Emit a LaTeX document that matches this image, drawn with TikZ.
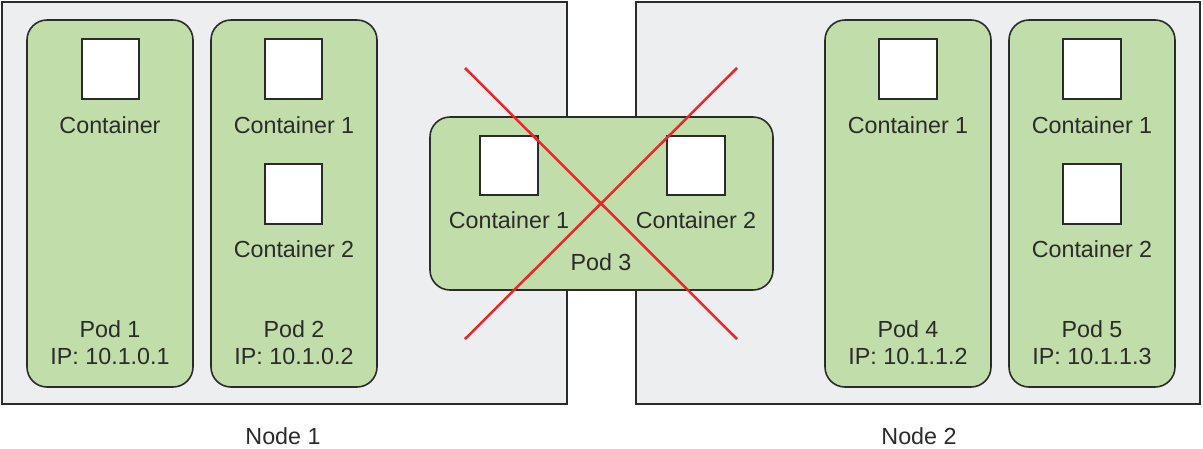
\documentclass[tikz,border=0pt]{standalone}
\usepackage{fontspec}
\setmainfont{Liberation Sans}
\definecolor{nodegray}{HTML}{EDEEF0}
\definecolor{podgreen}{HTML}{C1DDA9}
\definecolor{edge}{HTML}{2B2B2B}
\definecolor{crossred}{HTML}{E8262B}
\begin{document}
\begin{tikzpicture}[x=1pt,y=-1pt,
  hostbox/.style={draw=edge,line width=1.8pt,fill=nodegray},
  podbox/.style={draw=edge,line width=1.6pt,fill=podgreen,rounded corners=20pt},
  ctr/.style={draw=edge,line width=1.6pt,fill=white},
  lbl/.style={font=\fontsize{23.3}{28}\selectfont,text=edge,inner sep=0pt},
  cross/.style={draw=crossred,line width=2.5pt}]
\useasboundingbox (0,0) rectangle (1203,448);
% hosts
\draw[hostbox] (2,2) rectangle (567,404);
\draw[hostbox] (636,2) rectangle (1200,404);
\node[lbl] (n1) at (283,436) {Node 1};
\node[lbl] (n2) at (919,436) {Node 2};
% pod 1
\draw[podbox] (27,20) rectangle (193,387);
\draw[ctr] (82,39) rectangle (139,99);
\node[lbl] (p1c) at (110,125) {Container};
\node[lbl] (p1) at (110,329) {Pod 1};
\node[lbl] (p1ip) at (110,356) {IP: 10.1.0.1};
% pod 2
\draw[podbox] (211,20) rectangle (377,387);
\draw[ctr] (265,39) rectangle (322,99);
\node[lbl] (p2c1) at (294,125) {Container 1};
\draw[ctr] (265,164) rectangle (322,224);
\node[lbl] (p2c2) at (294,249) {Container 2};
\node[lbl] (p2) at (294,329) {Pod 2};
\node[lbl] (p2ip) at (294,356) {IP: 10.1.0.2};
% pod 3
\draw[podbox] (430,117) rectangle (773,290);
\draw[ctr] (480,136) rectangle (538,195);
\node[lbl] (p3c1) at (509,220) {Container 1};
\draw[ctr] (667,136) rectangle (725,195);
\node[lbl] (p3c2) at (696,220) {Container 2};
\node[lbl] (p3) at (601,262) {Pod 3};
% pod 4
\draw[podbox] (825,20) rectangle (991,387);
\draw[ctr] (879,39) rectangle (937,99);
\node[lbl] (p4c1) at (908,125) {Container 1};
\node[lbl] (p4) at (908,329) {Pod 4};
\node[lbl] (p4ip) at (908,356) {IP: 10.1.1.2};
% pod 5
\draw[podbox] (1009,20) rectangle (1175,387);
\draw[ctr] (1063,39) rectangle (1121,99);
\node[lbl] (p5c1) at (1092,125) {Container 1};
\draw[ctr] (1063,164) rectangle (1121,224);
\node[lbl] (p5c2) at (1092,249) {Container 2};
\node[lbl] (p5) at (1092,329) {Pod 5};
\node[lbl] (p5ip) at (1092,356) {IP: 10.1.1.3};
% cross
\coordinate (a1) at (465,68);
\coordinate (a2) at (737,339);
\coordinate (b1) at (737,68);
\coordinate (b2) at (465,339);
\draw[cross] (a1) -- (a2);
\draw[cross] (b1) -- (b2);
\end{tikzpicture}
\end{document}
